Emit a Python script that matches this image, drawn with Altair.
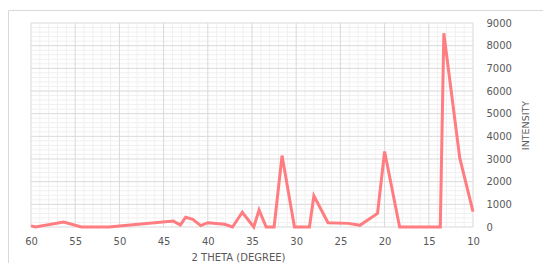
import altair as alt
import pandas as pd

# Data
two_theta = [60, 59.5, 56.3, 54.3, 51.2, 43.9, 43.1, 42.5, 41.7, 40.8, 40.0, 38.1,
             37.2, 36.1, 34.8, 34.2, 33.4, 32.5, 31.6, 30.2, 28.5, 28.0, 26.4, 24.1,
             22.8, 20.8, 20.0, 18.3, 13.7, 13.3, 11.5, 10.0]
intensity = [50, 0, 220, 0, 0, 260, 90, 430, 340, 60, 190, 120,
             0, 650, 0, 750, 0, 0, 3150, 0, 0, 1380, 190, 160,
             75, 600, 3330, 0, 0, 8550, 3050, 680]

x_major = list(range(10, 61, 5))
x_minor = [v for v in range(10, 61) if v % 5 != 0]
y_major = list(range(0, 9001, 1000))
y_minor = [v for v in range(0, 9001, 200) if v % 1000 != 0]

df = pd.DataFrame({"x": two_theta, "y": intensity})

FONT = "DejaVu Sans"
TXT = "#595959"

xscale = alt.Scale(domain=[10, 60], reverse=True, nice=False, zero=False)
yscale = alt.Scale(domain=[0, 9000], nice=False)

xaxis = alt.Axis(title="2 THETA (DEGREE)", values=x_major, format="d", grid=False, ticks=False,
                 domain=False, labelPadding=9, labelFont=FONT, labelFontSize=10,
                 labelFlush=False, labelOverlap=False,
                 labelColor=TXT, titleFont=FONT, titleFontSize=10, titleColor=TXT,
                 titleFontWeight="normal", titleX=207, titleY=30,
                 titleAlign="center", titleBaseline="middle")
yaxis = alt.Axis(orient="right", title="INTENSITY", values=y_major, format="d", grid=False,
                 ticks=False, domain=False, labelPadding=13, labelFont=FONT,
                 labelFlush=False, labelOverlap=False,
                 labelFontSize=10, labelColor=TXT, labelAlign="left",
                 titleFont=FONT, titleFontSize=9.5, titleColor=TXT,
                 titleFontWeight="normal", titleAngle=270, titleX=52, titleY=102,
                 titleAlign="center", titleBaseline="middle")

line = alt.Chart(df).mark_line(color="#FF7C80", strokeWidth=3, strokeJoin="miter").encode(
    x=alt.X("x:Q", scale=xscale, axis=xaxis),
    y=alt.Y("y:Q", scale=yscale, axis=yaxis),
    order=alt.Order("idx:Q"),
).transform_window(idx="row_number()")

minor_v = alt.Chart(pd.DataFrame({"x": x_minor})).mark_rule(color="#f0f0f0", strokeWidth=1).encode(
    x=alt.X("x:Q", scale=xscale, axis=xaxis))
minor_h = alt.Chart(pd.DataFrame({"y": y_minor})).mark_rule(color="#f0f0f0", strokeWidth=1).encode(
    y=alt.Y("y:Q", scale=yscale, axis=yaxis))
major_v = alt.Chart(pd.DataFrame({"x": x_major})).mark_rule(color="#d9d9d9", strokeWidth=1).encode(
    x=alt.X("x:Q", scale=xscale, axis=xaxis))
major_h = alt.Chart(pd.DataFrame({"y": y_major})).mark_rule(color="#d9d9d9", strokeWidth=1).encode(
    y=alt.Y("y:Q", scale=yscale, axis=yaxis))

frame_top = alt.Chart(pd.DataFrame({"a": [0]})).mark_rule(color="#d9d9d9", strokeWidth=1).encode(
    x=alt.value(-22.5), x2=alt.value(700), y=alt.value(-12.5))
frame_left = alt.Chart(pd.DataFrame({"a": [0]})).mark_rule(color="#d9d9d9", strokeWidth=1).encode(
    x=alt.value(-22.5), y=alt.value(-12.5), y2=alt.value(400))

chart = alt.layer(minor_v, minor_h, major_v, major_h, line, frame_top, frame_left).properties(
    width=442, height=204,
    autosize=alt.AutoSizeParams(type="none"),
    padding={"left": 23, "top": 15, "right": 70, "bottom": 36},
    background="white",
).configure_view(stroke=None)

chart.save("out.html", embed_options={"renderer": "svg", "actions": False})
